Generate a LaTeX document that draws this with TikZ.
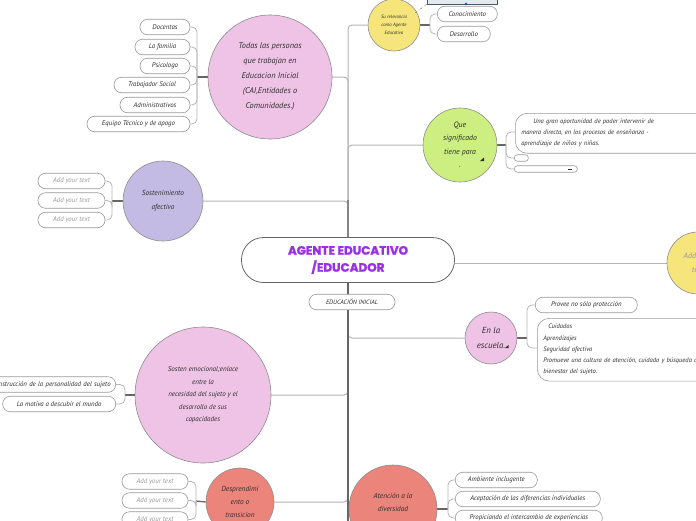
\documentclass[tikz,border=0pt]{standalone}
\usepackage{fontspec}
\setmainfont{PT Sans}
\newfontfamily\titlefont{Poppins}[BoldFeatures={FakeBold=1.6}]
\usetikzlibrary{backgrounds}
\definecolor{pinkc}{HTML}{EFC3E6}
\definecolor{lavc}{HTML}{C3BBE3}
\definecolor{yelc}{HTML}{F6E57B}
\definecolor{grnc}{HTML}{CDEE80}
\definecolor{salc}{HTML}{EB847A}
\definecolor{bordc}{HTML}{8C8C8C}
\definecolor{leafb}{HTML}{9A9A9A}
\definecolor{brc}{HTML}{B4B4B4}
\definecolor{trc}{HTML}{666666}
\definecolor{txtc}{HTML}{2E2E2E}
\definecolor{purc}{HTML}{9B2FE8}
\definecolor{boxf}{HTML}{E2EAF0}
\definecolor{boxd}{HTML}{4A5866}
\tikzset{
  bubble/.style={circle, draw=bordc, line width=.6pt, align=center, text=txtc, inner sep=1pt},
  leaf/.style={rectangle, rounded corners=7.5pt, draw=leafb, line width=.6pt, fill=white,
    minimum height=15.5pt, inner sep=2pt, text=txtc, font=\fontsize{6.8}{7}\selectfont\itshape},
  addt/.style={leaf, text=leafb},
  branch/.style={draw=brc, line width=1pt, rounded corners=4pt},
  stub/.style={draw=trc, line width=1.3pt},
  brk/.style={draw=brc, line width=.8pt, rounded corners=5pt},
  trunk/.style={draw=trc, line width=1.5pt},
}
\begin{document}
\begin{tikzpicture}[x=1pt,y=-1pt]
\useasboundingbox (0,0) rectangle (696,520);

% central node
\node[rectangle, rounded corners=22pt, draw=trc, line width=.8pt, fill=white,
  minimum width=213pt, minimum height=45pt, align=center, text=purc,
  font=\titlefont\bfseries\fontsize{12}{17}\selectfont] (ctr) at (348,260)
  {AGENTE EDUCATIVO\\/EDUCADOR};
\coordinate (ctop) at (348,238);
\coordinate (cbot) at (348,283);
\coordinate (tend) at (348,530);
\node[leaf, minimum width=86pt, font=\fontsize{6.3}{7}\selectfont\itshape] (edu) at (352,302) {EDUCACIÓN INICIAL};

% main bubbles
\node[bubble, fill=pinkc, minimum size=124pt, font=\fontsize{8.3}{15}\selectfont\itshape] (todas) at (270,77)
  {Todas las personas\\que trabajan en\\Educacion Inicial\\(CAI,Entidades o\\Comunidades.)};
\node[bubble, fill=lavc, minimum size=80pt, font=\fontsize{7.3}{14}\selectfont\itshape] (safe) at (163,201)
  {Sostenimiento\\afectivo};
\node[bubble, fill=pinkc, minimum size=136pt, font=\fontsize{7}{12.5}\selectfont\itshape] (semo) at (203,395)
  {Sosten emocional;enlace\\entre la\\necesidad del sujeto y el\\desarrollo de sus\\capacidades};
\node[bubble, fill=salc, minimum size=68pt, font=\fontsize{7.3}{13}\selectfont\itshape] (desp) at (240,502)
  {Desprendimi\\ento o\\transicion};
\node[bubble, fill=salc, minimum size=88pt, font=\fontsize{7.3}{13}\selectfont\itshape] (aten) at (393,509)
  {Atención a la\\diversidad\\\ };
\node[bubble, fill=yelc, minimum size=52pt, font=\fontsize{4.8}{8}\selectfont\itshape] (relev) at (394,25)
  {Su relevancia\\como Agente\\Educativo};
\node[bubble, fill=grnc, minimum size=74pt, font=\fontsize{7.8}{13.5}\selectfont\itshape] (signif) at (460,145)
  {Que\\significado\\tiene para\\.};
\node[bubble, fill=pinkc, minimum size=52pt, font=\fontsize{8.8}{15}\selectfont\itshape] (esc) at (491,338)
  {En la\\escuela.};
\node[bubble, fill=yelc, minimum size=62pt, text=leafb, font=\fontsize{8}{14}\selectfont\itshape] (addr) at (698,263)
  {Add your\\text};
\fill[txtc] (480,161) -- (484,157.5) -- (484,161) -- cycle;
\fill[txtc] (505,348) -- (508.5,345) -- (508.5,348) -- cycle;

% leaves of todas
\node[leaf, minimum width=50pt] (t1) at (165,27) {Docentas};
\node[leaf, minimum width=55pt] (t2) at (162.5,47) {La familia};
\node[leaf, minimum width=50pt] (t3) at (165,66) {Psicologo};
\node[leaf, minimum width=76pt] (t4) at (152,85) {Trabajador Social};
\node[leaf, minimum width=70pt] (t5) at (155,105) {Administrativos};
\node[leaf, minimum width=103pt] (t6) at (138.5,124) {Equipo Técnico y de apogo};
\coordinate (th) at (197,77);

% leaves of sostenimiento
\node[addt, minimum width=67pt] (a1) at (71.5,181) {Add your text};
\node[addt, minimum width=67pt] (a2) at (71.5,200.5) {Add your text};
\node[addt, minimum width=67pt] (a3) at (71.5,220) {Add your text};
\coordinate (ah) at (112,201);

% leaves of sosten emocional
\node[leaf, minimum width=150pt, anchor=east, text width=140pt, align=right] (e1) at (116,384.5) {Construcción de la personalidad del sujeto};
\node[leaf, minimum width=113pt, anchor=east] (e2) at (116,404) {La motiva a descubir el mundo};
\coordinate (eh) at (125,395);

% leaves of desprendimiento
\node[addt, minimum width=66pt] (d1) at (155,481.5) {Add your text};
\node[addt, minimum width=66pt] (d2) at (155,500.5) {Add your text};
\node[addt, minimum width=66pt] (d3) at (155,519.5) {Add your text};
\coordinate (dh) at (196,501);

% leaves of atencion
\node[leaf, minimum width=82pt, anchor=west] (n1) at (455,480) {Ambiente inclugente};
\node[leaf, minimum width=145pt, anchor=west] (n2) at (455,499) {Aceptación de las diferencias individuales};
\node[leaf, minimum width=147pt, anchor=west] (n3) at (455,518) {Propiciando el intercambio de experiencias};
\coordinate (nh) at (448,509);

% leaves of relevancia
\node[leaf, minimum width=60pt, anchor=west] (r1) at (437,14) {Conocimiento};
\node[leaf, minimum width=53pt, anchor=west] (r2) at (437,34) {Desarrollo};
\coordinate (rh) at (430,25);
\draw[boxd, fill=boxf, line width=1pt] (427,-6) rectangle (497,4);
\fill[blue!70!cyan] (466,4) circle (1.3pt);
\draw[bordc, dashed, line width=.5pt] (415,13) -- (427,4);

% leaves of significado
\node[leaf, rounded corners=12pt, minimum height=38pt, anchor=north west, align=left,
  text width=188pt, inner sep=6pt, font=\fontsize{6.5}{11}\selectfont\itshape] (s1) at (515,113)
  {\hspace*{12pt}Una gran oportunidad de poder intervenir de\\manera directa, en los procesos de enseñanza -\\aprendizaje de niños y niñas.};
\node[leaf, rounded corners=3pt, minimum width=14pt, minimum height=6.5pt, inner sep=0pt, anchor=west] (s2) at (514,158) {};
\node[leaf, rounded corners=3pt, minimum width=63pt, minimum height=6.5pt, inner sep=0pt, anchor=west] (s3) at (514,169) {};
\draw[txtc, line width=.5pt] (568,169) -- (572,169);
\coordinate (sh) at (506,145);

% leaves of escuela
\node[leaf, minimum width=102pt, anchor=west] (w1) at (535,305) {Provee no sólo protección};
\node[leaf, rounded corners=12pt, minimum height=60pt, anchor=north west, align=left,
  text width=182pt, inner sep=6pt, font=\fontsize{6.5}{11.2}\selectfont\itshape] (w2) at (537,318)
  {\hspace*{5pt}Cuidados\\Aprendizajes\\Seguridad afectiva\\Promueve una cultura de atención, cuidado y búsqueda del\\bienestar del sujeto.};
\coordinate (wh) at (527,338);

\begin{scope}[on background layer]
  \draw[branch] (ctop) |- (todas.east);
  \draw[branch] (ctop) |- (safe.east);
  \draw[branch] (ctop) |- (relev.west);
  \draw[branch] (ctop) |- (signif.west);
  \draw[branch] (cbot) |- (esc.west);
  \draw[branch] (cbot) |- (semo.east);
  \draw[branch] (cbot) |- (desp.east);
  \draw[branch] (ctr.east |- addr.west) -- (addr.west);
  \draw[trunk] (cbot) -- (tend);
  \draw[draw=trc!80, line width=1.2pt] (ctop) -- (348,200);
  % stubs
  \draw[stub] (todas.west) -- (th);
  \draw[stub] (safe.west) -- (ah);
  \draw[stub] (semo.west) -- (eh);
  \draw[stub] (desp.west) -- (dh);
  \draw[stub] (aten.east |- nh) -- (nh);
  \draw[stub] (relev.east) -- (rh);
  \draw[stub] (signif.east) -- (sh);
  \draw[stub] (esc.east) -- (wh);
  % brackets
  \foreach \l in {t1,t2,t3,t4,t5,t6} \draw[brk] (th) |- (\l.east);
  \foreach \l in {a1,a2,a3} \draw[brk] (ah) |- (\l.east);
  \foreach \l in {e1,e2} \draw[brk] (eh) |- (\l.east);
  \foreach \l in {d1,d2,d3} \draw[brk] (dh) |- (\l.east);
  \foreach \l in {n1,n2,n3} \draw[brk] (nh) |- (\l.west);
  \foreach \l in {r1,r2} \draw[brk] (rh) |- (\l.west);
  \foreach \l in {s2,s3} \draw[brk] (sh) |- (\l.west);
  \draw[brk] (sh) |- (515,132);
  \draw[brk] (wh) |- (w1.west);
  \draw[brk] (wh) |- (537,348);
\end{scope}
\end{tikzpicture}
\end{document}
